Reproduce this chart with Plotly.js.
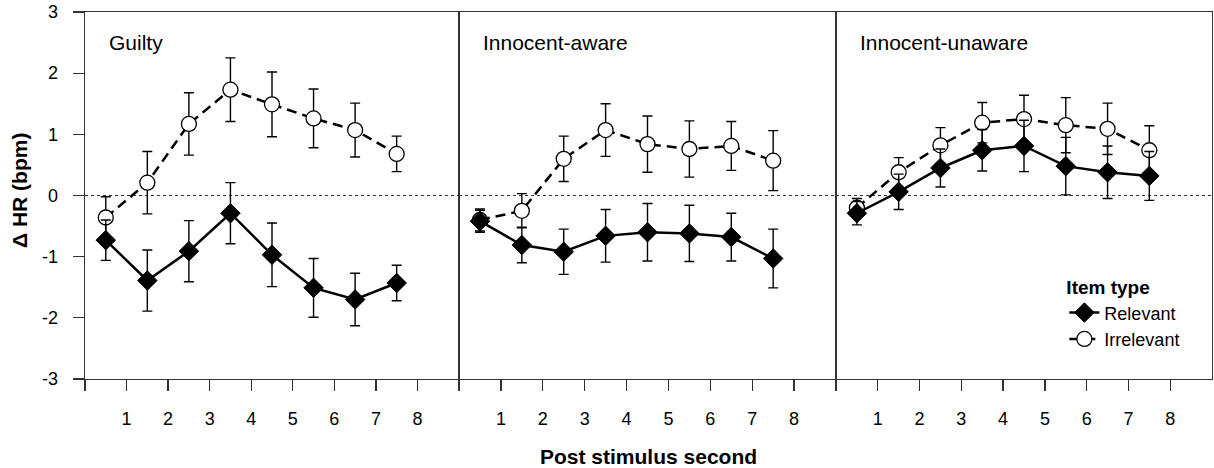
<!DOCTYPE html>
<html>
<head>
<meta charset="utf-8">
<script src="https://cdn.plot.ly/plotly-3.0.1.min.js"></script>
<style>html,body{margin:0;padding:0;background:#fff;}#chart{width:1214px;height:468px;}</style>
</head>
<body>
<div id="chart"></div>
<script>
// ---- data ----
const seconds = [0.5, 1.5, 2.5, 3.5, 4.5, 5.5, 6.5, 7.5];
const panelNames = ["Guilty", "Innocent-aware", "Innocent-unaware"];
const seriesNames = ["Relevant", "Irrelevant"];

const guiltyRel    = [-0.73, -1.39, -0.91, -0.29, -0.97, -1.51, -1.70, -1.43];
const guiltyRelSE  = [0.33, 0.50, 0.50, 0.50, 0.52, 0.48, 0.43, 0.29];
const guiltyIrr    = [-0.36, 0.21, 1.17, 1.73, 1.49, 1.26, 1.07, 0.68];
const guiltyIrrSE  = [0.34, 0.51, 0.51, 0.52, 0.53, 0.48, 0.44, 0.29];

const awareRel     = [-0.42, -0.81, -0.92, -0.66, -0.60, -0.62, -0.68, -1.03];
const awareRelSE   = [0.18, 0.29, 0.37, 0.43, 0.47, 0.46, 0.39, 0.48];
const awareIrr     = [-0.40, -0.25, 0.60, 1.07, 0.84, 0.76, 0.81, 0.57];
const awareIrrSE   = [0.18, 0.28, 0.37, 0.43, 0.46, 0.46, 0.40, 0.49];

const unawareRel   = [-0.29, 0.06, 0.45, 0.74, 0.81, 0.48, 0.38, 0.32];
const unawareRelSE = [0.19, 0.29, 0.31, 0.34, 0.42, 0.47, 0.43, 0.40];
const unawareIrr   = [-0.20, 0.38, 0.82, 1.19, 1.25, 1.15, 1.09, 0.74];
const unawareIrrSE = [0.15, 0.24, 0.29, 0.33, 0.39, 0.45, 0.42, 0.40];

const xTickVals = [0, 1, 2, 3, 4, 5, 6, 7, 8];
const xTickText = ["", "1", "2", "3", "4", "5", "6", "7", "8"];
const yTickVals = [-3, -2, -1, 0, 1, 2, 3];
const yTickText = ["-3", "-2", "-1", "0", "1", "2", "3"];

// ---- build traces ----
const FONT = "Liberation Sans, Arial, Helvetica, sans-serif";
const panels = [
  {rel: guiltyRel, relSE: guiltyRelSE, irr: guiltyIrr, irrSE: guiltyIrrSE},
  {rel: awareRel, relSE: awareRelSE, irr: awareIrr, irrSE: awareIrrSE},
  {rel: unawareRel, relSE: unawareRelSE, irr: unawareIrr, irrSE: unawareIrrSE}
];
const axSuffix = ["", "2", "3"];
const traces = [];
panels.forEach((p, i) => {
  const xa = "x" + axSuffix[i], ya = "y" + axSuffix[i];
  traces.push({
    type: "scatter", mode: "lines+markers", x: seconds, y: p.irr,
    xaxis: xa, yaxis: ya, name: seriesNames[1], legendgroup: "irr", legendrank: 2,
    showlegend: i === 0,
    line: {color: "#000", width: 2.5, dash: "10px,6px"},
    marker: {symbol: "circle", size: 15, color: "#fff", line: {color: "#000", width: 1.3}},
    error_y: {type: "data", array: p.irrSE, visible: true, color: "#000", thickness: 1.4, width: 5}
  });
  traces.push({
    type: "scatter", mode: "lines+markers", x: seconds, y: p.rel,
    xaxis: xa, yaxis: ya, name: seriesNames[0], legendgroup: "rel", legendrank: 1,
    showlegend: i === 0,
    line: {color: "#000", width: 2.5},
    marker: {symbol: "diamond", size: 15, color: "#000", line: {color: "#000", width: 1}},
    error_y: {type: "data", array: p.relSE, visible: true, color: "#000", thickness: 1.4, width: 5}
  });
});

// ---- layout ----
const d1 = (459 - 85) / 1127, d2 = (836 - 85) / 1127;
const domains = [[0, d1], [d1, d2], [d2, 1]];
const layout = {
  width: 1214, height: 468,
  margin: {l: 85, r: 2, t: 12, b: 89},
  paper_bgcolor: "#fff", plot_bgcolor: "#fff",
  font: {family: FONT, size: 18, color: "#000"},
  showlegend: true,
  legend: {
    x: 0.869, y: 0.298, xanchor: "left", yanchor: "top",
    bgcolor: "rgba(0,0,0,0)", borderwidth: 0,
    title: {text: "<b>Item type</b>", font: {family: FONT, size: 19, color: "#000"}},
    font: {family: FONT, size: 18, color: "#000"},
    tracegroupgap: 0, itemwidth: 30
  },
  shapes: [],
  annotations: []
};
domains.forEach((dom, i) => {
  const s = axSuffix[i];
  layout["xaxis" + s] = {
    domain: dom, anchor: "y" + s, range: [0, 9],
    tickvals: xTickVals, ticktext: xTickText,
    ticks: "outside", ticklen: 11, tickwidth: 1.3, tickcolor: "#333",
    ticklabelstandoff: 12,
    showline: true, linecolor: "#333", linewidth: 1.3, mirror: true,
    showgrid: false, zeroline: false,
    tickfont: {family: FONT, size: 18, color: "#000"}
  };
  const yax = {
    domain: [0, 1], anchor: "x" + s, range: [-3, 3],
    showline: true, linecolor: "#333", linewidth: 1.3, mirror: true,
    showgrid: false, zeroline: false
  };
  if (i === 0) {
    Object.assign(yax, {
      tickvals: yTickVals, ticktext: yTickText,
      ticks: "outside", ticklen: 11, tickwidth: 1.3, tickcolor: "#333",
      ticklabelstandoff: 11,
      tickfont: {family: FONT, size: 18, color: "#000"}
    });
  } else {
    Object.assign(yax, {matches: "y", showticklabels: false, ticks: ""});
  }
  layout["yaxis" + s] = yax;
  layout.shapes.push({
    type: "line", xref: "x" + s + " domain", yref: "y" + s,
    x0: 0, x1: 1, y0: 0, y1: 0,
    line: {color: "#333", width: 1.2, dash: "dot"}, layer: "below"
  });
  layout.annotations.push({
    xref: "x" + s + " domain", yref: "y" + s + " domain",
    x: 0.058, y: 0.917, xanchor: "left", yanchor: "middle",
    text: panelNames[i], showarrow: false,
    font: {family: FONT, size: 21, color: "#000"}
  });
});
// y-axis title
layout.annotations.push({
  xref: "paper", yref: "paper", x: 0, xshift: -66, y: (379 - 191) / 367,
  xanchor: "center", yanchor: "middle", textangle: -90,
  text: "<b>\u0394 HR (bpm)</b>", showarrow: false,
  font: {family: FONT, size: 21, color: "#000"}
});
// x-axis title
layout.annotations.push({
  xref: "paper", yref: "paper", x: 0.5, y: (379 - 456) / 367,
  xanchor: "center", yanchor: "middle",
  text: "<b>Post stimulus second</b>", showarrow: false,
  font: {family: FONT, size: 21, color: "#000"}
});

Plotly.newPlot("chart", traces, layout, {displayModeBar: false, staticPlot: true});
</script>
</body>
</html>
